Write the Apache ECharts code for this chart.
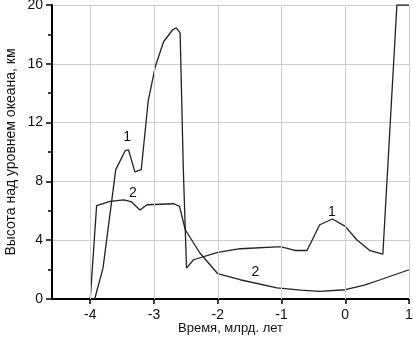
<!DOCTYPE html>
<html>
<head>
<meta charset="utf-8">
<script src="https://cdn.jsdelivr.net/npm/echarts@6/dist/echarts.min.js"></script>
<style>
  html, body { margin: 0; padding: 0; background: #fff; }
  #chart { width: 413px; height: 337px; }
</style>
</head>
<body>
<div id="chart"></div>
<script>
// кривая 1: [время, высота]
const curve1 = [
  [-3.93, 0], [-3.8, 2.1], [-3.6, 8.8], [-3.45, 10.1], [-3.4, 10.15], [-3.3, 8.65],
  [-3.2, 8.8], [-3.09, 13.5], [-2.98, 15.8], [-2.85, 17.5], [-2.71, 18.3],
  [-2.65, 18.45], [-2.59, 18.1], [-2.54, 8.8], [-2.49, 2.1], [-2.38, 2.67],
  [-2.0, 3.17], [-1.65, 3.42], [-1.07, 3.54], [-1.0, 3.54], [-0.79, 3.3],
  [-0.6, 3.3], [-0.4, 5.05], [-0.2, 5.44], [0.0, 4.94], [0.18, 4.03],
  [0.39, 3.29], [0.59, 3.06], [0.81, 20], [1.0, 20]
];
// кривая 2
const curve2 = [
  [-4.0, 0], [-3.9, 6.35], [-3.69, 6.64], [-3.47, 6.75], [-3.35, 6.6],
  [-3.22, 6.05], [-3.11, 6.41], [-2.69, 6.48], [-2.6, 6.3], [-2.51, 4.71],
  [-2.28, 3.13], [-2.0, 1.72], [-1.65, 1.31], [-1.07, 0.75], [-0.7, 0.6],
  [-0.4, 0.52], [0.0, 0.63], [0.3, 0.95], [0.55, 1.31], [1.0, 1.99]
];
const xTicks = [-4, -3, -2, -1, 0, 1];
// подписи кривых
const labels1 = [[-3.42, 11.0], [-0.21, 5.9]];
const labels2 = [[-3.33, 7.2], [-1.41, 1.8]];

const chart = echarts.init(document.getElementById('chart'));

const lineStyle = { color: '#222', width: 1.3 };
const markLabels = (pts, txt) => ({
  symbol: 'circle', symbolSize: 0, silent: true,
  label: { show: true, position: 'inside', formatter: txt, color: '#111', fontSize: 14, fontFamily: 'Liberation Sans' },
  data: pts.map(p => ({ coord: p }))
});

chart.setOption({
  animation: false,
  grid: { left: 52, right: 4, top: 5, bottom: 38, outerBoundsMode: 'none' },
  xAxis: {
    type: 'value', min: -4.6, max: 1,
    name: 'Время, млрд. лет', nameLocation: 'middle', nameGap: 23, nameMoveOverlap: false,
    nameTextStyle: { color: '#111', fontSize: 13, fontFamily: 'Liberation Sans', lineHeight: 13 },
    axisLine: { show: true, onZero: false, lineStyle: { color: '#000', width: 2 } },
    axisTick: { show: true, customValues: xTicks, length: 5, lineStyle: { color: '#000', width: 1.5 } },
    axisLabel: { customValues: xTicks, color: '#111', fontSize: 14, fontFamily: 'Liberation Sans', margin: 10, lineHeight: 13 },
    splitLine: { show: false }
  },
  yAxis: {
    type: 'value', min: 0, max: 20, interval: 4,
    name: 'Высота над уровнем океана, км', nameLocation: 'middle', nameGap: 34, nameMoveOverlap: false,
    nameTextStyle: { color: '#111', fontSize: 14, fontFamily: 'Liberation Sans' },
    axisLine: { show: true, onZero: false, lineStyle: { color: '#000', width: 2 } },
    axisTick: { show: true, length: 6, lineStyle: { color: '#000', width: 1.5 } },
    minorTick: { show: true, splitNumber: 2, length: 4, lineStyle: { color: '#000', width: 1.5 } },
    axisLabel: { color: '#111', fontSize: 14, fontFamily: 'Liberation Sans', margin: 9 },
    splitLine: { show: true, lineStyle: { color: '#ccc', width: 1 } }
  },
  series: [
    {
      name: '1', type: 'line', data: curve1, symbol: 'none', lineStyle: lineStyle,
      markPoint: markLabels(labels1, '1'),
      markLine: {
        silent: true, symbol: 'none', label: { show: false },
        lineStyle: { color: '#ccc', width: 1, type: 'solid' },
        data: xTicks.map(v => ({ xAxis: v }))
      },
      z: 3
    },
    {
      name: '2', type: 'line', data: curve2, symbol: 'none', lineStyle: lineStyle,
      markPoint: markLabels(labels2, '2'),
      z: 3
    }
  ]
});
window.addEventListener('resize', () => chart.resize());
</script>
</body>
</html>
